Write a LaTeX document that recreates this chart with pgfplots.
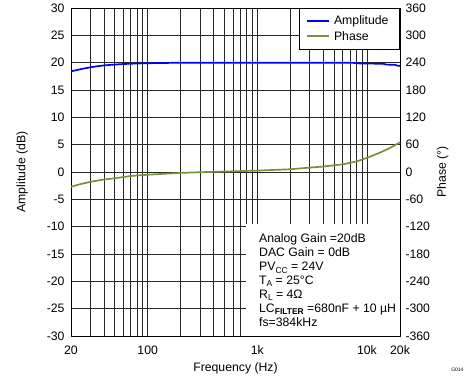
\documentclass[border=0pt]{standalone}
\usepackage{pgfplots}
\pgfplotsset{compat=1.18}
\usepackage{fontspec}
\setmainfont{Liberation Sans}
\definecolor{ampblue}{RGB}{0,0,255}
\definecolor{phgreen}{RGB}{118,146,60}
\definecolor{gridc}{RGB}{40,40,40}
\newcommand{\sub}[1]{\raisebox{-0.35ex}{\fontsize{8.5}{9}\selectfont #1}}
\pgfplotsset{
  myaxis/.style={
    scale only axis, width=329bp, height=328bp,
    xmin=20, xmax=20000,
    font=\fontsize{12.3}{14}\selectfont,
    tick label style={font=\fontsize{12.3}{14}\selectfont},
    label style={font=\fontsize{12.3}{14}\selectfont},
    major tick length=0pt, minor tick length=0pt,
    axis line style={black, line width=0.9bp},
  }
}
\begin{document}
\begin{tikzpicture}
\begin{semilogxaxis}[myaxis, name=main,
  ymin=-30, ymax=30,
  xtick={20,100,1000,10000,20000},
  xticklabels={20,100,1k,10k,20k},
  minor xtick={30,40,50,60,70,80,90,200,300,400,500,600,700,800,900,2000,3000,4000,5000,6000,7000,8000,9000},
  ytick={-30,-25,...,30},
  yticklabels={-30,-25,-20,-15,-10,-5,0,5,10,15,20,25,30},
  grid=both,
  grid style={gridc, line width=0.8bp},
  minor grid style={gridc, line width=0.8bp},
  xticklabel style={yshift=-6bp},
  yticklabel style={xshift=-3bp},
  xlabel={Frequency (Hz)},
  ylabel={Amplitude (dB)},
  xlabel style={yshift=-1bp},
  ylabel style={yshift=12bp},
  legend style={at={(1,1)}, anchor=north east, line width=0.9bp,
    font=\fontsize{12.3}{14}\selectfont, inner xsep=7bp, inner ysep=5.5bp, row sep=1bp,
    nodes={inner xsep=4bp}},
  legend cell align=left,
]
\addlegendimage{legend image code/.code={\draw[ampblue, line width=2bp] (0bp,0bp) -- (22bp,0bp);}}
\addlegendentry{Amplitude}
\addlegendimage{legend image code/.code={\draw[phgreen, line width=2bp] (0bp,0bp) -- (22bp,0bp);}}
\addlegendentry{Phase}
\addplot[ampblue, line width=1.7bp, forget plot] coordinates {
(20,18.4) (22,18.6) (25,18.85) (30,19.15) (35,19.35) (40,19.5) (50,19.65) (60,19.75)
(80,19.85) (100,19.9) (150,19.95) (200,20) (1000,20) (5000,20) (8000,19.95)
(8500,19.85) (14000,19.8) (15000,19.65) (18000,19.6) (19000,19.45) (20000,19.4)};
\fill[white] (axis cs:787,-29.92) rectangle (axis cs:19950,-9.5);
\node[anchor=north west, align=left, inner sep=0pt, font=\fontsize{12.3}{14}\selectfont]
  at (axis cs:1035,-11.3) {%
  Analog Gain =20dB\\
  DAC Gain = 0dB\\
  PV\sub{CC} = 24V\\
  T\sub{A} = 25°C\\
  R\sub{L} = 4Ω\\
  LC\sub{\bfseries FILTER} =680nF + 10 µH\\
  fs=384kHz};
\end{semilogxaxis}
\begin{semilogxaxis}[myaxis,
  axis y line*=right, axis x line=none,
  ymin=-360, ymax=360,
  ytick={-360,-300,...,360},
  yticklabels={-360,-300,-240,-180,-120,-60,0,60,120,180,240,300,360},
  yticklabel style={xshift=2bp},
  ylabel={Phase (°)},
]
\addplot[phgreen, line width=1.7bp] coordinates {
(20,-32.4) (25,-26) (30,-21.6) (40,-16.5) (50,-13.8) (70,-8.8) (100,-6) (130,-4.4)
(200,-2) (300,-0.5) (500,1) (1000,3) (2000,6) (3000,9.6) (4000,12) (6000,16.8)
(8000,23) (10000,31) (13000,42) (16000,52) (20000,65)};
\end{semilogxaxis}
\node[font=\fontsize{5}{6}\selectfont, anchor=east] at ([xshift=67bp,yshift=-34bp]main.south east) {G014};
\pgfresetboundingbox
\path ([xshift=-71bp,yshift=-46bp]main.south west) rectangle ([xshift=69bp,yshift=8bp]main.north east);
\end{tikzpicture}
\end{document}
